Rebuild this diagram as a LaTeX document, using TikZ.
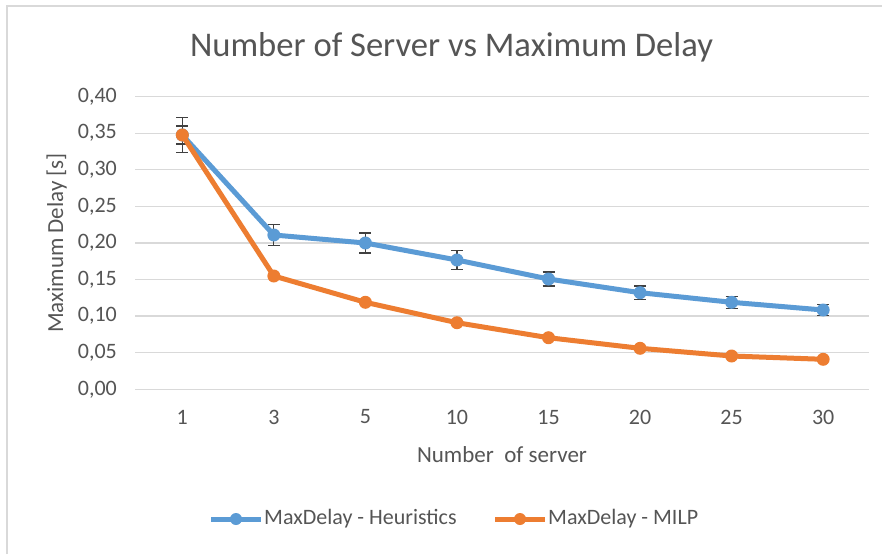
\documentclass[tikz,border=0pt]{standalone}
\usepackage{fontspec}
\setmainfont{Carlito}
\usetikzlibrary{calc}
\definecolor{txt}{HTML}{555555}
\definecolor{gridc}{HTML}{D9D9D9}
\definecolor{heur}{HTML}{5B9BD5}
\definecolor{milp}{HTML}{ED7D31}
\definecolor{errc}{HTML}{404040}
\tikzset{
  gridline/.style={draw=gridc, line width=1.3pt},
  frameline/.style={draw=gridc, line width=1.5pt},
  ticklabel/.style={text=txt, font=\fontsize{22}{26}\selectfont, inner sep=0pt},
  axistitle/.style={text=txt, font=\fontsize{23}{27}\selectfont, inner sep=0pt},
  legendtext/.style={text=txt, font=\fontsize{22}{26}\selectfont, inner sep=0pt, anchor=west},
  heurline/.style={draw=heur, line width=5pt, line join=round, line cap=round},
  milpline/.style={draw=milp, line width=5pt, line join=round, line cap=round},
  errbar/.style={draw=errc, line width=1.2pt},
}
\begin{document}
\begin{tikzpicture}[x=1pt, y=-1pt]
  \useasboundingbox (0,0) rectangle (882,554);
  \fill[white] (0,0) rectangle (882,554);
  % chart frame
  \draw[frameline] (7,554) -- (7,6) -- (882,6);

  % title
  \node[text=txt, font=\fontsize{34.6}{40}\selectfont, inner sep=0pt, anchor=base] (title) at (451.5,56) {Number of Server vs Maximum Delay};

  % horizontal gridlines and value labels
  \foreach \k/\lab in {0/{0,00}, 1/{0,05}, 2/{0,10}, 3/{0,15}, 4/{0,20}, 5/{0,25}, 6/{0,30}, 7/{0,35}, 8/{0,40}}{
    \draw[gridline] (135,{389.3-36.58*\k}) -- (869,{389.3-36.58*\k});
    \node[ticklabel, anchor=east] (yt\k) at (117,{389.3-36.58*\k}) {\lab};
  }

  % category labels
  \foreach \i/\lab in {1/1, 2/3, 3/5, 4/10, 5/15, 6/20, 7/25, 8/30}{
    \node[ticklabel] (xt\i) at ({182.3+91.55*(\i-1)},417) {\lab};
  }

  % axis titles
  \node[axistitle, anchor=east] (ytitle) at (67,243) {\rotatebox{90}{Maximum Delay [s]}};
  \node[axistitle] (xtitle) at (502,455) {Number\ \ of server};

  % data points: heuristics (y, error half-length) and MILP (y)
  \foreach \i/\yh/\eh/\ym in {1/135/17.5/135, 2/235/10.3/276, 3/243/10/302.3, 4/260/9.2/322.7,
                              5/279/7/337.7, 6/292.7/6.7/348.3, 7/302.3/5.8/356, 8/310/5.5/359.3}{
    \coordinate (h\i) at ({182.3+91.55*(\i-1)},\yh);
    \coordinate (m\i) at ({182.3+91.55*(\i-1)},\ym);
    \draw[errbar] ([yshift=\eh pt]h\i) -- ([yshift=-\eh pt]h\i);
    \draw[errbar] ([xshift=-6pt,yshift=\eh pt]h\i) -- ([xshift=6pt,yshift=\eh pt]h\i);
    \draw[errbar] ([xshift=-6pt,yshift=-\eh pt]h\i) -- ([xshift=6pt,yshift=-\eh pt]h\i);
  }
  % inner error bar of the first MILP point
  \draw[errbar] ([xshift=-6pt,yshift=9pt]m1) -- ([xshift=6pt,yshift=9pt]m1);
  \draw[errbar] ([xshift=-6pt,yshift=-9pt]m1) -- ([xshift=6pt,yshift=-9pt]m1);

  % heuristics series
  \draw[heurline] (h1) -- (h2) -- (h3) -- (h4) -- (h5) -- (h6) -- (h7) -- (h8);
  \foreach \i in {1,...,8}{ \fill[heur] (h\i) circle (6.5); }
  % MILP series
  \draw[milpline] (m1) -- (m2) -- (m3) -- (m4) -- (m5) -- (m6) -- (m7) -- (m8);
  \foreach \i in {1,...,8}{ \fill[milp] (m\i) circle (6.5); }

  % legend
  \coordinate (lha) at (211,519);
  \coordinate (lhb) at (261,519);
  \draw[heurline, line cap=butt] (lha) -- (lhb);
  \fill[heur] ($(lha)!0.5!(lhb)$) circle (6);
  \node[legendtext] (lht) at (264,519) {MaxDelay - Heuristics};
  \coordinate (lma) at (495,519);
  \coordinate (lmb) at (545,519);
  \draw[milpline, line cap=butt] (lma) -- (lmb);
  \fill[milp] ($(lma)!0.5!(lmb)$) circle (6);
  \node[legendtext] (lmt) at (548,519) {MaxDelay - MILP};
\end{tikzpicture}
\end{document}
